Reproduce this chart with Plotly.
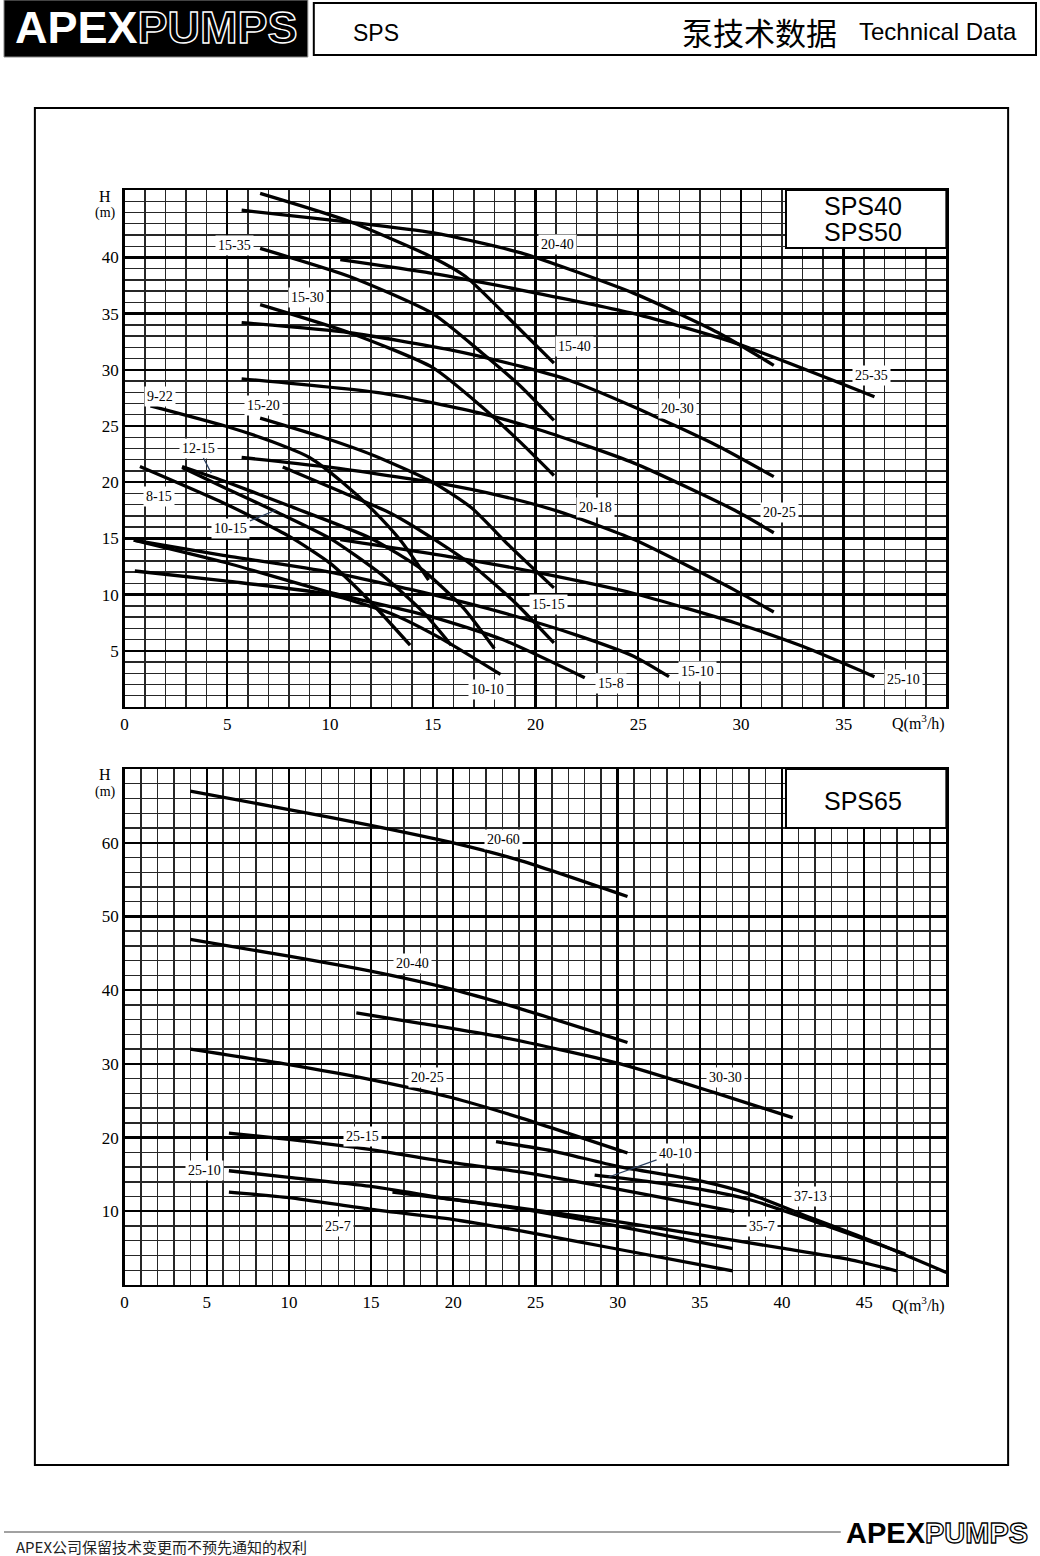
import plotly.graph_objects as go

# ---------------- DATA ----------------
# Top chart (SPS40 / SPS50): Q in m3/h, H in m
t15_40_q = [6.6, 10.95, 15.0, 16.6, 19.3, 20.9]
t15_40_h = [45.7, 43.2, 40.0, 38.3, 33.5, 30.6]
t20_40_q = [5.7, 10.95, 15.0, 19.3, 24.8, 28.9, 31.6]
t20_40_h = [44.2, 43.15, 42.2, 40.4, 36.8, 33.3, 30.4]
t25_35_q = [10.5, 14.9, 19.3, 24.8, 29.7, 36.5]
t25_35_h = [39.8, 38.6, 37.1, 35.0, 32.4, 27.6]
t15_35_q = [6.6, 10.95, 15.0, 17.4, 19.3, 20.9]
t15_35_h = [40.8, 38.3, 35.0, 31.5, 28.5, 25.5]
t15_30_q = [6.6, 10.95, 15.0, 17.4, 19.3, 20.9]
t15_30_h = [35.8, 33.3, 30.2, 26.7, 23.5, 20.6]
t20_30_q = [5.7, 10.95, 15.8, 19.3, 21.6, 24.8, 28.9, 31.6]
t20_30_h = [34.2, 33.3, 31.8, 30.3, 29.1, 26.7, 23.2, 20.5]
t20_25_q = [5.7, 12.6, 17.4, 20.3, 24.8, 29.7, 31.6]
t20_25_h = [29.2, 27.9, 26.1, 24.6, 21.7, 17.5, 15.5]
t20_18_q = [5.7, 9.65, 15.0, 18.5, 21.3, 24.8, 29.7, 31.6]
t20_18_h = [22.2, 21.4, 20.0, 18.7, 17.3, 14.9, 10.4, 8.45]
t9_22_q = [1.26, 4.9, 7.2, 9.0, 10.6, 12.1, 13.4, 14.8]
t9_22_h = [26.8, 25.0, 23.6, 22.2, 20.0, 17.5, 14.9, 11.3]
t15_20_q = [6.6, 9.65, 12.1, 15.0, 16.9, 18.7, 20.9]
t15_20_h = [25.7, 24.0, 22.4, 20.0, 17.7, 14.4, 10.6]
t15_15_q = [7.7, 10.6, 13.0, 15.0, 17.0, 19.0, 20.9]
t15_15_h = [21.35, 19.1, 17.2, 15.0, 12.5, 9.3, 5.7]
t12_15_q = [2.8, 5.0, 8.0, 12.0, 14.5, 16.5, 18.0]
t12_15_h = [21.4, 20.0, 17.9, 15.0, 12.2, 8.8, 5.2]
t10_15_q = [2.8, 5.0, 7.35, 10.0, 12.5, 14.5, 15.9]
t10_15_h = [21.3, 19.4, 17.4, 15.0, 11.8, 8.5, 5.5]
t8_15_q = [0.75, 5.0, 8.0, 10.0, 12.0, 13.9]
t8_15_h = [21.4, 18.0, 15.2, 12.8, 9.3, 5.5]
t15_10_q = [0.45, 4.8, 10.0, 15.0, 18.4, 22.0, 24.8, 26.5]
t15_10_h = [14.85, 13.5, 12.0, 10.0, 8.4, 6.4, 4.5, 2.7]
t15_8_q = [0.45, 4.8, 10.0, 15.0, 18.4, 22.4]
t15_8_h = [14.85, 12.9, 10.2, 8.0, 6.0, 2.6]
t10_10_q = [0.5, 5.0, 10.0, 13.0, 15.5, 18.3]
t10_10_h = [12.1, 11.2, 10.0, 8.3, 6.0, 2.9]
t25_10_q = [10.5, 16.1, 20.0, 24.8, 29.7, 33.0, 36.5]
t25_10_h = [14.9, 13.3, 12.0, 10.1, 7.5, 5.4, 2.7]

# Bottom chart (SPS65)
b20_60_q = [4.0, 10.0, 14.9, 19.94, 24.2, 30.6]
b20_60_h = [67.0, 64.5, 62.4, 60.0, 57.5, 52.7]
b20_40_q = [4.0, 10.0, 14.9, 19.94, 24.2, 30.6]
b20_40_h = [46.9, 44.6, 42.6, 40.1, 37.4, 32.9]
b30_30_q = [14.1, 18.0, 23.0, 30.0, 35.9, 40.65]
b30_30_h = [36.9, 35.5, 33.6, 30.1, 26.1, 22.7]
b20_25_q = [4.0, 10.0, 14.9, 19.94, 24.2, 30.6]
b20_25_h = [32.0, 29.9, 27.9, 25.4, 22.6, 17.9]
b25_15_q = [6.35, 10.0, 14.9, 19.94, 24.2, 30.0, 37.1]
b25_15_h = [20.6, 19.75, 18.4, 16.6, 15.3, 13.0, 10.0]
b37_13_q = [22.6, 26.0, 30.0, 35.1, 38.1, 41.2, 45.2, 50.0]
b37_13_h = [19.45, 18.2, 16.1, 14.1, 12.3, 9.6, 6.2, 1.7]
b40_10_q = [28.6, 32.0, 35.0, 38.0, 41.0, 45.0, 47.5]
b40_10_h = [14.9, 14.0, 13.0, 11.6, 9.4, 6.2, 4.2]
b25_10_q = [6.35, 10.0, 14.9, 19.94, 24.2, 30.0, 37.0]
b25_10_h = [15.5, 14.6, 13.4, 11.6, 10.3, 8.0, 4.95]
b35_7_q = [16.3, 20.0, 24.2, 30.0, 35.0, 40.0, 44.0, 47.0]
b35_7_h = [12.6, 11.6, 10.4, 8.6, 6.8, 5.0, 3.5, 1.9]
b25_7_q = [6.35, 10.0, 14.9, 19.94, 24.2, 30.04, 37.0]
b25_7_h = [12.6, 11.85, 10.3, 8.9, 7.3, 4.85, 1.9]

top_curves = [
    ("15-40", t15_40_q, t15_40_h), ("20-40", t20_40_q, t20_40_h),
    ("25-35", t25_35_q, t25_35_h), ("15-35", t15_35_q, t15_35_h),
    ("15-30", t15_30_q, t15_30_h), ("20-30", t20_30_q, t20_30_h),
    ("20-25", t20_25_q, t20_25_h), ("20-18", t20_18_q, t20_18_h),
    ("9-22", t9_22_q, t9_22_h), ("15-20", t15_20_q, t15_20_h),
    ("15-15", t15_15_q, t15_15_h), ("12-15", t12_15_q, t12_15_h),
    ("10-15", t10_15_q, t10_15_h), ("8-15", t8_15_q, t8_15_h),
    ("15-10", t15_10_q, t15_10_h), ("15-8", t15_8_q, t15_8_h),
    ("10-10", t10_10_q, t10_10_h), ("25-10", t25_10_q, t25_10_h),
]
bottom_curves = [
    ("20-60", b20_60_q, b20_60_h), ("20-40", b20_40_q, b20_40_h),
    ("30-30", b30_30_q, b30_30_h), ("20-25", b20_25_q, b20_25_h),
    ("25-15", b25_15_q, b25_15_h), ("37-13", b37_13_q, b37_13_h),
    ("40-10", b40_10_q, b40_10_h), ("25-10", b25_10_q, b25_10_h),
    ("35-7", b35_7_q, b35_7_h), ("25-7", b25_7_q, b25_7_h),
]

top_xticks = [0, 5, 10, 15, 20, 25, 30, 35]
top_yticks = [5, 10, 15, 20, 25, 30, 35, 40]
bot_xticks = [0, 5, 10, 15, 20, 25, 30, 35, 40, 45]
bot_yticks = [10, 20, 30, 40, 50, 60]

# ---------------- FIGURE ----------------
W, H = 1040, 1556
def PX(x): return x / W
def PY(y): return 1 - y / H

SERIF = "Liberation Serif, Times New Roman, serif"
SANS = "Liberation Sans, Arial, sans-serif"
CJK = "Noto Sans CJK SC, sans-serif"

fig = go.Figure()
for name, q, h in top_curves:
    fig.add_trace(go.Scatter(x=q, y=h, mode="lines", name=name, xaxis="x", yaxis="y",
                             line=dict(color="black", width=3.3, shape="spline", smoothing=0.6),
                             hoverinfo="skip"))
for name, q, h in bottom_curves:
    fig.add_trace(go.Scatter(x=q, y=h, mode="lines", name=name, xaxis="x2", yaxis="y2",
                             line=dict(color="black", width=3.3, shape="spline", smoothing=0.6),
                             hoverinfo="skip"))

def axis(domain, rng, tickvals, minor_dtick, anchor):
    return dict(domain=domain, range=rng, anchor=anchor, tickmode="array",
                tickvals=tickvals, ticktext=[str(v) for v in tickvals], showgrid=True,
                gridcolor="black", gridwidth=2.3,
                minor=dict(dtick=minor_dtick, tick0=0, showgrid=True, gridcolor="#262626", gridwidth=1.4, ticks=""),
                showline=True, linecolor="black", linewidth=2.3, mirror=True,
                ticks="", zeroline=False, fixedrange=True,
                tickfont=dict(family=SERIF, size=17, color="black"))

top_xd = [121 / W, 946 / W]
fig.update_layout(
    autosize=True,
    margin=dict(l=0, r=0, t=0, b=0),
    paper_bgcolor="white", plot_bgcolor="white", showlegend=False,
    xaxis=axis(top_xd, [0, 40], top_xticks, 1, "y"),
    yaxis=axis([PY(707), PY(190)], [0, 46], top_yticks, 1, "x"),
    xaxis2=axis(top_xd, [0, 50], bot_xticks, 1, "y2"),
    yaxis2=axis([PY(1285), PY(769)], [0, 70], bot_yticks, 2, "x2"),
)

shapes = []
# header
shapes.append(dict(type="rect", xref="paper", yref="paper", x0=0, x1=PX(305), y0=PY(57), y1=PY(0),
                   fillcolor="black", line=dict(color="#888", width=1)))
shapes.append(dict(type="rect", xref="paper", yref="paper", x0=PX(311), x1=PX(1036), y0=PY(55), y1=PY(3),
                   fillcolor="white", line=dict(color="black", width=2)))
# outer frame
shapes.append(dict(type="rect", xref="paper", yref="paper", x0=PX(31), x1=PX(1008), y0=PY(1465), y1=PY(108),
                   line=dict(color="black", width=2)))
# footer line
shapes.append(dict(type="line", xref="paper", yref="paper", x0=0, x1=PX(840), y0=PY(1532), y1=PY(1532),
                   line=dict(color="#444", width=1)))
# model boxes
shapes.append(dict(type="rect", xref="paper", yref="paper", x0=PX(785), x1=PX(946), y0=PY(248), y1=PY(190),
                   fillcolor="white", line=dict(color="black", width=2)))
shapes.append(dict(type="rect", xref="paper", yref="paper", x0=PX(785), x1=PX(946), y0=PY(828), y1=PY(769),
                   fillcolor="white", line=dict(color="black", width=2)))
fig.update_layout(shapes=shapes)

ann = []
def A(**kw):
    kw.setdefault("xanchor", "center")
    kw.setdefault("yanchor", "middle")
    ann.append(kw)

# header texts
A(x=PX(153), y=PY(28), xref="paper", yref="paper", showarrow=False,
  text='<b>APEX<span style="fill:black;stroke:white;stroke-width:1.4px">PUMPS</span></b>',
  font=dict(family=SANS, size=45, color="white"))
A(x=PX(348), y=PY(33), xref="paper", yref="paper", showarrow=False, xanchor="left",
  text="SPS", font=dict(family=SANS, size=23, color="black"))
A(x=PX(679), y=PY(31), xref="paper", yref="paper", showarrow=False, xanchor="left",
  text="泵技术数据", font=dict(family=CJK, size=31, color="black"))
A(x=PX(1019), y=PY(31), xref="paper", yref="paper", showarrow=False, xanchor="right",
  text="Technical Data", font=dict(family=SANS, size=24, color="black"))
# footer
A(x=PX(10), y=PY(1546), xref="paper", yref="paper", showarrow=False, xanchor="left",
  text="APEX公司保留技术变更而不预先通知的权利", font=dict(family=CJK, size=15, color="#222"))
A(x=PX(937), y=PY(1533), xref="paper", yref="paper", showarrow=False,
  text='<b>APEX<span style="fill:white;stroke:black;stroke-width:1.3px">PUMPS</span></b>',
  font=dict(family=SANS, size=29, color="black"))
# model box texts
A(x=PX(862), y=PY(206), xref="paper", yref="paper", showarrow=False,
  text="SPS40", font=dict(family=SANS, size=25, color="black"))
A(x=PX(862), y=PY(232), xref="paper", yref="paper", showarrow=False,
  text="SPS50", font=dict(family=SANS, size=25, color="black"))
A(x=PX(862), y=PY(801), xref="paper", yref="paper", showarrow=False,
  text="SPS65", font=dict(family=SANS, size=25, color="black"))
# axis titles
for yH in (196, 775):
    A(x=PX(101), y=PY(yH), xref="paper", yref="paper", showarrow=False,
      text="H", font=dict(family=SERIF, size=16, color="black"))
    A(x=PX(102), y=PY(yH + 17), xref="paper", yref="paper", showarrow=False,
      text="(m)", font=dict(family=SERIF, size=14, color="black"))
for yQ in (723, 1304):
    A(x=PX(918), y=PY(yQ), xref="paper", yref="paper", showarrow=False,
      text="Q(m<sup>3</sup>/h)", font=dict(family=SERIF, size=16, color="black"))

# curve labels (top)
top_labels = [
    ("20-40", 21.09, 41.19), ("15-35", 5.33, 41.02), ("15-30", 8.92, 36.48),
    ("15-40", 21.92, 32.12), ("25-35", 36.36, 29.54), ("20-30", 26.91, 26.6),
    ("9-22", 1.75, 27.67), ("15-20", 6.74, 26.87), ("8-15", 1.70, 18.77),
    ("20-18", 22.93, 17.71), ("20-25", 31.9, 17.35), ("15-15", 20.65, 9.08),
    ("15-10", 27.88, 3.2), ("15-8", 23.66, 2.05), ("10-10", 17.65, 1.6),
    ("25-10", 37.92, 2.49),
]
LF = dict(family=SERIF, size=14, color="black")
for t, x, y in top_labels:
    A(x=x, y=y, xref="x", yref="y", text=t, showarrow=False, font=LF, bgcolor="white", borderpad=2)
# labels with leader lines
A(x=4.22, y=20.82, xref="x", yref="y", text="12-15", showarrow=True, arrowhead=0, arrowwidth=1.3,
  ax=-13, ay=-25, font=LF, bgcolor="white", borderpad=2, standoff=0)
A(x=7.37, y=17.53, xref="x", yref="y", text="10-15", showarrow=True, arrowhead=0, arrowwidth=1.3,
  ax=-45, ay=19, font=LF, bgcolor="white", borderpad=2, standoff=0)

bottom_labels = [
    ("20-60", 23.03, 60.5), ("20-40", 17.52, 43.55), ("30-30", 36.55, 28.2),
    ("20-25", 18.42, 28.2), ("25-15", 14.48, 20.2), ("37-13", 41.76, 11.94),
    ("35-7", 38.79, 7.87), ("25-10", 4.85, 15.47), ("25-7", 12.97, 8.0),
]
for t, x, y in bottom_labels:
    A(x=x, y=y, xref="x2", yref="y2", text=t, showarrow=False, font=LF, bgcolor="white", borderpad=2)
A(x=29.45, y=14.65, xref="x2", yref="y2", text="40-10", showarrow=True, arrowhead=0, arrowwidth=1.3,
  ax=67, ay=-24, font=LF, bgcolor="white", borderpad=2, standoff=0)

fig.update_layout(annotations=ann)

fig.write_html("out.html", config={"staticPlot": True, "responsive": True},
               default_width="1040px;position:absolute;left:0px;top:0px",
               default_height="1556px",
               post_script="document.body.style.margin='0';document.body.style.overflow='hidden';")
